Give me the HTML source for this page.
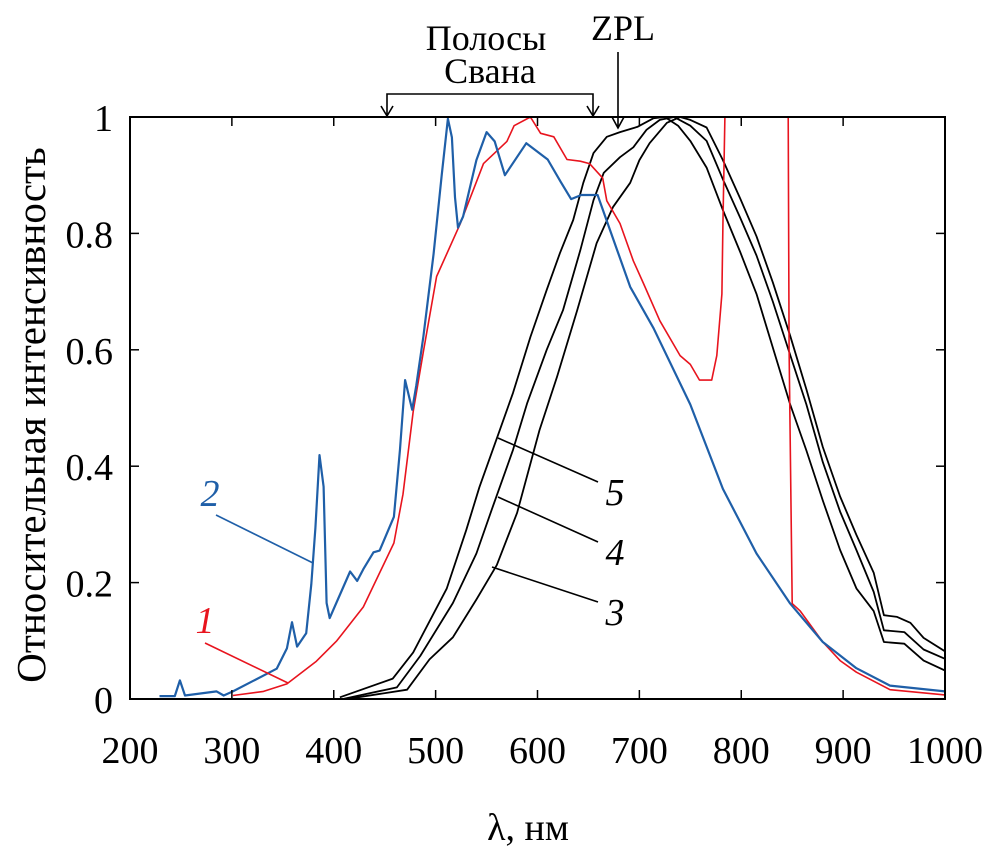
<!DOCTYPE html>
<html><head><meta charset="utf-8"><style>
body{margin:0;background:#fff}
svg text{font-family:"Liberation Serif",serif;}
</style></head><body>
<svg id="c" width="1008" height="857" viewBox="0 0 1008 857">
<g id="plot"></g>
</svg>
<script>
const xTicks=[200,300,400,500,600,700,800,900,1000];
const yTicks=[0,0.2,0.4,0.6,0.8,1];
const yTickLabels=["0","0.2","0.4","0.6","0.8","1"];
const s1x=[301,331,354,383,403,429,459,468,478,488,501,524,547,570,577,593,603,616,629,642,651,664,668,681,694,704,720,740,750,759,771,776,781,782,784,785,846,847,850,858,880,897,913,946,1000];
const s1y=[0.006,0.013,0.026,0.065,0.1,0.158,0.268,0.352,0.494,0.597,0.726,0.816,0.92,0.958,0.985,1.0,0.972,0.966,0.927,0.924,0.92,0.895,0.856,0.817,0.753,0.714,0.65,0.59,0.575,0.548,0.548,0.59,0.696,0.814,1.0,1.05,1.05,0.6,0.164,0.151,0.098,0.066,0.046,0.016,0.007];
const s2x=[229,244,249,254,285,292,301,344,354,359,364,373,378,382,386,390,393,396,416,423,429,439,445,459,465,470,477,481,488,498,506,512,516,519,522,527,540,550,558,568,589,610,623,633,643,659,678,691,714,750,782,815,848,880,913,946,1000];
const s2y=[0.005,0.005,0.032,0.006,0.013,0.006,0.013,0.052,0.087,0.132,0.09,0.113,0.197,0.294,0.419,0.365,0.165,0.139,0.219,0.203,0.223,0.252,0.255,0.313,0.429,0.548,0.497,0.539,0.623,0.765,0.9,0.997,0.965,0.862,0.81,0.829,0.926,0.974,0.958,0.9,0.955,0.927,0.888,0.859,0.866,0.866,0.772,0.708,0.637,0.506,0.361,0.25,0.164,0.098,0.053,0.023,0.013];
const s5x=[406,458,478,511,530,543,563,576,593,609,622,635,645,655,668,681,698,714,725,738,750,766,782,799,815,831,848,864,880,897,913,930,940,960,979,1000];
const s5y=[0.003,0.035,0.08,0.19,0.29,0.364,0.462,0.526,0.622,0.703,0.766,0.823,0.887,0.938,0.966,0.974,0.983,0.998,1.0,0.985,0.959,0.913,0.84,0.768,0.696,0.604,0.506,0.427,0.341,0.256,0.19,0.151,0.098,0.095,0.066,0.049];
const s4x=[409,462,485,517,540,556,576,590,609,625,642,655,665,681,694,707,720,734,750,766,782,799,815,831,848,864,880,897,913,930,940,960,979,1000];
const s4y=[0,0.02,0.074,0.165,0.25,0.33,0.428,0.509,0.6,0.668,0.771,0.857,0.904,0.931,0.948,0.978,0.995,1.0,0.985,0.959,0.893,0.827,0.762,0.683,0.591,0.506,0.407,0.322,0.256,0.184,0.118,0.115,0.085,0.069];
const s3x=[413,472,494,517,540,560,580,602,619,639,658,674,691,700,710,727,740,750,766,782,799,815,831,848,864,880,897,913,930,940,953,966,979,1000];
const s3y=[0,0.016,0.068,0.106,0.171,0.23,0.32,0.462,0.553,0.668,0.783,0.845,0.887,0.926,0.955,0.99,1.0,0.995,0.982,0.926,0.86,0.795,0.716,0.624,0.532,0.433,0.348,0.282,0.217,0.144,0.141,0.131,0.105,0.082];

const L=130,R=945,T=117,B=699;
const X=v=>L+(v-200)/800*(R-L);
const Y=v=>B-v*(B-T);
const NS="http://www.w3.org/2000/svg";
const g=document.getElementById('plot');
function mk(tag,attrs,parent){const e=document.createElementNS(NS,tag);for(const k in attrs)e.setAttribute(k,attrs[k]);(parent||g).appendChild(e);return e;}
const defs=mk('defs',{});const cp=mk('clipPath',{id:'cl'},defs);mk('rect',{x:L,y:T,width:R-L,height:B-T},cp);
function series(xs,ys,color,name,w){
  const d=xs.map((x,i)=>(i?'L':'M')+X(x).toFixed(1)+','+Y(ys[i]).toFixed(1)).join('');
  const p=mk('path',{d:d,fill:'none',stroke:color,'stroke-width':w,'stroke-linejoin':'round','clip-path':'url(#cl)'});
  
  
}
series(s5x,s5y,'#000','curve-5',1.8);
series(s4x,s4y,'#000','curve-4',1.8);
series(s3x,s3y,'#000','curve-3',1.8);
series(s1x,s1y,'#e8141e','curve-1',1.6);
series(s2x,s2y,'#1f5fa8','curve-2',2.2);
const frame=mk('rect',{x:L,y:T,width:R-L,height:B-T,fill:'none',stroke:'#000','stroke-width':2});


xTicks.forEach(v=>{
  mk('line',{x1:X(v),x2:X(v),y1:B,y2:B-9,stroke:'#000','stroke-width':1.5});
  mk('line',{x1:X(v),x2:X(v),y1:T,y2:T+9,stroke:'#000','stroke-width':1.5});
  const t=mk('text',{x:X(v),y:763,'text-anchor':'middle','font-size':38});
  t.textContent=v;
  
  
});
yTicks.forEach((v,i)=>{
  mk('line',{x1:L,x2:L+9,y1:Y(v),y2:Y(v),stroke:'#000','stroke-width':1.5});
  mk('line',{x1:R,x2:R-9,y1:Y(v),y2:Y(v),stroke:'#000','stroke-width':1.5});
  const t=mk('text',{x:113,y:Y(v)+14,'text-anchor':'end','font-size':38});
  t.textContent=yTickLabels[i];
  
  
});
const xt=mk('text',{x:528,y:840,'text-anchor':'middle','font-size':38});
xt.textContent='λ, нм';


const yt=mk('text',{x:0,y:0,'text-anchor':'middle','font-size':41,transform:'translate(45,415) rotate(-90)'});
yt.textContent='Относительная интенсивность';


function lab(txt,x,y,col,name){const t=mk('text',{x:x,y:y,'font-size':38,'font-style':'italic',fill:col,'text-anchor':'middle'});t.textContent=txt;}
function ln(x1,y1,x2,y2,col){mk('line',{x1,y1,x2,y2,stroke:col,'stroke-width':1.6});}
lab('2',210,506,'#1f5fa8','label-2');ln(216,515,313,563,'#1f5fa8');
lab('1',205,633,'#e8141e','label-1');ln(205,643,288,683,'#e8141e');
lab('5',615,505,'#000','label-5');ln(498,438,598,482,'#000');
lab('4',615,565,'#000','label-4');ln(498,497,598,542,'#000');
lab('3',615,625,'#000','label-3');ln(492,567,598,602,'#000');
const a1=mk('text',{x:486,y:50,'text-anchor':'middle','font-size':36});a1.textContent='Полосы';


const a2=mk('text',{x:490,y:83,'text-anchor':'middle','font-size':36});a2.textContent='Свана';


mk('path',{d:'M387,115 L387,94 L593,94 L593,115',fill:'none',stroke:'#000','stroke-width':1.6});
mk('path',{d:'M381,106 L387,116 L393,106 M587,106 L593,116 L599,106',fill:'none',stroke:'#000','stroke-width':1.6});
const z=mk('text',{x:623,y:40,'text-anchor':'middle','font-size':36});z.textContent='ZPL';


mk('path',{d:'M618,52 L618,127 M612,117 L618,128 L624,117',fill:'none',stroke:'#000','stroke-width':1.6});
</script>
</body></html>
